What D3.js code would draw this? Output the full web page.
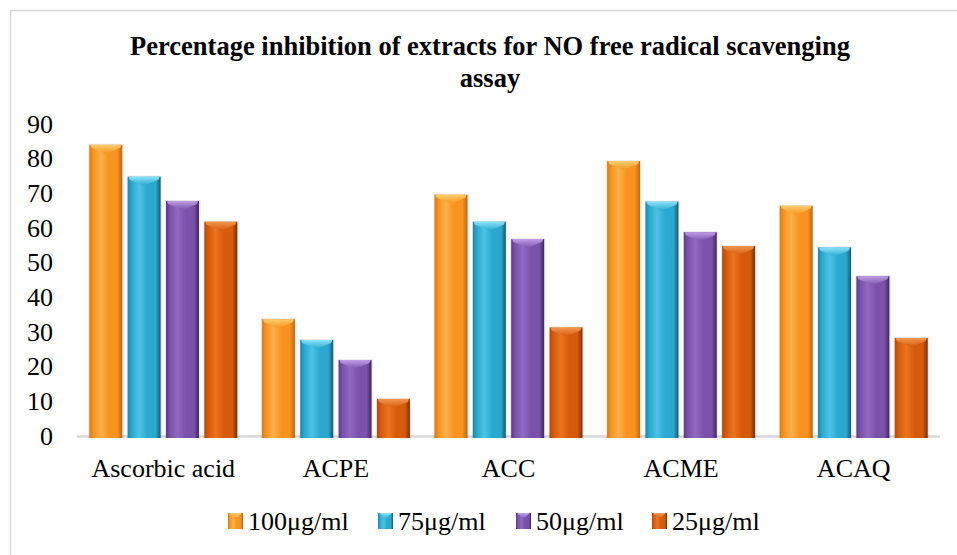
<!DOCTYPE html>
<html>
<head>
<meta charset="utf-8">
<script src="https://cdn.jsdelivr.net/npm/d3@7"></script>
<style>
  body { margin: 0; background: #fff; }
</style>
</head>
<body>
<svg id="chart" width="957" height="555"></svg>
<script>
// data
const categories = ['Ascorbic acid', 'ACPE', 'ACC', 'ACME', 'ACAQ'];
const seriesNames = ['100μg/ml', '75μg/ml', '50μg/ml', '25μg/ml'];
const v100 = [84, 33.7, 69.6, 79.3, 66.4];
const v75  = [74.8, 27.7, 61.8, 67.6, 54.4];
const v50  = [67.8, 21.9, 56.8, 58.8, 46.1];
const v25  = [61.8, 10.7, 31.3, 54.8, 28.3];
const yTicks = [0, 10, 20, 30, 40, 50, 60, 70, 80, 90];
const titleLines = ['Percentage inhibition of extracts for NO free radical scavenging', 'assay'];

const seriesValues = [v100, v75, v50, v25];
const FONT = 'Liberation Serif';

// colour stops: left edge, light, middle, right edge, cap
const palette = [
  ['#d87a1e', '#fbb04a', '#f7931e', '#c0650f', '#fcd070'],
  ['#1b86a6', '#4cc3e6', '#2aa8cf', '#135a72', '#8ee6fb'],
  ['#5d3b87', '#9269c2', '#7a52aa', '#3f2760', '#c3a2ea'],
  ['#b24a08', '#ec7420', '#d65a0b', '#7a2f04', '#f59a52']
];

const svg = d3.select('#chart');
const defs = svg.append('defs');

// chart frame
svg.append('rect')
  .attr('x', 10.5).attr('y', 10.5)
  .attr('width', 980).attr('height', 600)
  .attr('fill', '#fff')
  .attr('stroke', '#d9d9d9').attr('stroke-width', 1.5);

const x0 = d3.scaleBand()
  .domain(categories)
  .range([77, 940]);

const x1 = d3.scaleBand()
  .domain(seriesNames)
  .range([-74, 74])
  .paddingInner(0.14);

const y = d3.scaleLinear()
  .domain([0, 90])
  .range([436, 124]);

// gradients for the glossy cylinder look
palette.forEach((c, i) => {
  const g = defs.append('linearGradient')
    .attr('id', 'grad' + i)
    .attr('x1', '0%').attr('x2', '100%').attr('y1', '0%').attr('y2', '0%');
  [[0, c[0]], [0.12, c[2]], [0.35, c[1]], [0.6, c[2]], [0.85, c[2]], [1, c[3]]]
    .forEach(s => g.append('stop').attr('offset', s[0]).attr('stop-color', s[1]));
  const cap = defs.append('linearGradient')
    .attr('id', 'cap' + i)
    .attr('x1', '0%').attr('x2', '0%').attr('y1', '0%').attr('y2', '100%');
  cap.append('stop').attr('offset', 0).attr('stop-color', c[4]);
  cap.append('stop').attr('offset', 1).attr('stop-color', c[2]);
});

// baseline
svg.append('line')
  .attr('x1', x0.range()[0]).attr('x2', x0.range()[1])
  .attr('y1', y(0) + 0.5).attr('y2', y(0) + 0.5)
  .attr('stroke', '#d9d9d9').attr('stroke-width', 2.5);

// y axis labels
svg.append('g')
  .selectAll('text')
  .data(yTicks)
  .join('text')
  .attr('x', 53)
  .attr('y', d => y(d))
  .attr('dy', '0.33em')
  .attr('text-anchor', 'end')
  .attr('font-size', 26)
  .style('font-family', FONT)
  .attr('fill', '#000')
  .text(d => d);

// bars
const groups = svg.append('g')
  .selectAll('g')
  .data(categories)
  .join('g')
  .attr('transform', d => `translate(${x0(d) + x0.bandwidth() / 2},0)`);

const bars = groups.selectAll('g.bar')
  .data((c, ci) => seriesNames.map((s, si) => ({ s, si, v: seriesValues[si][ci] })))
  .join('g')
  .attr('class', 'bar');

const bw = x1.bandwidth();

// soft shadow
bars.append('rect')
  .attr('x', d => x1(d.s) - 1)
  .attr('y', d => y(d.v) - 1)
  .attr('width', bw + 2.5)
  .attr('height', d => y(0) - y(d.v) + 3)
  .attr('fill', '#000')
  .attr('opacity', 0.08);

bars.append('rect')
  .attr('x', d => x1(d.s))
  .attr('y', d => y(d.v))
  .attr('width', bw)
  .attr('height', d => y(0) - y(d.v) + 2)
  .attr('fill', d => `url(#grad${d.si})`);

// top cap highlight (chevron)
bars.append('path')
  .attr('d', d => {
    const xl = x1(d.s), xr = xl + bw, yt = y(d.v), xm = xl + bw / 2;
    const p = d3.path();
    p.moveTo(xl + 1, yt);
    p.lineTo(xr - 1, yt);
    p.lineTo(xr - 2, yt + 3);
    p.lineTo(xm, yt + 9);
    p.lineTo(xl + 2, yt + 3);
    p.closePath();
    return p.toString();
  })
  .attr('fill', d => `url(#cap${d.si})`)
  .attr('opacity', 0.95);

// category labels
svg.append('g')
  .selectAll('text')
  .data(categories)
  .join('text')
  .attr('x', d => x0(d) + x0.bandwidth() / 2)
  .attr('y', 477)
  .attr('text-anchor', 'middle')
  .attr('font-size', 26)
  .style('font-family', FONT)
  .attr('fill', '#000')
  .text(d => d);

// title
svg.append('g')
  .selectAll('text')
  .data(titleLines)
  .join('text')
  .attr('x', 490)
  .attr('y', (d, i) => 55 + i * 32)
  .attr('text-anchor', 'middle')
  .attr('font-size', 26.5)
  .attr('font-weight', 'bold')
  .style('font-family', FONT)
  .attr('fill', '#000')
  .text(d => d);

// legend
const legendX = [228, 378, 516, 652];
const legend = svg.append('g')
  .selectAll('g')
  .data(seriesNames)
  .join('g')
  .attr('transform', (d, i) => `translate(${legendX[i]},513)`);

legend.append('rect')
  .attr('width', 15).attr('height', 16)
  .attr('fill', (d, i) => `url(#grad${i})`);
legend.append('path')
  .attr('d', 'M1,0 L14,0 L7.5,6 Z')
  .attr('fill', (d, i) => `url(#cap${i})`);
legend.append('text')
  .attr('x', 20)
  .attr('y', 17)
  .attr('font-size', 26)
  .style('font-family', FONT)
  .attr('fill', '#000')
  .text(d => d);
</script>
</body>
</html>
